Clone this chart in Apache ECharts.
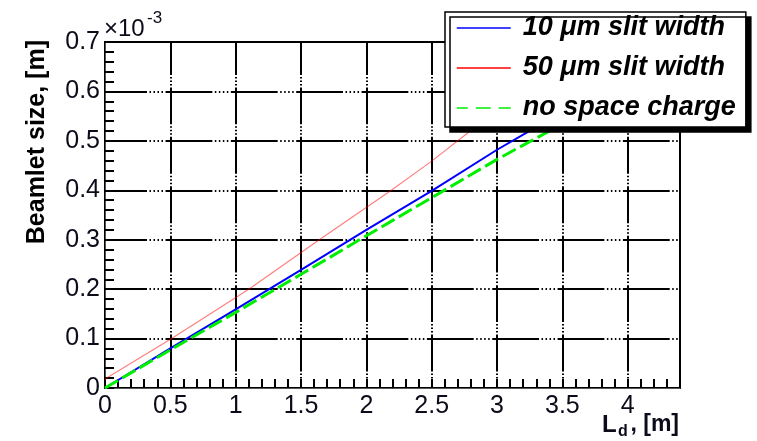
<!DOCTYPE html>
<html>
<head>
<meta charset="utf-8">
<script src="https://cdn.jsdelivr.net/npm/echarts@6/dist/echarts.min.js"></script>
<style>
  html, body { margin: 0; padding: 0; background: #ffffff; }
  #chart { width: 757px; height: 441px; }
</style>
</head>
<body>
<div id="chart"></div>
<script>
// Beamlet size [m] versus drift length L_d [m]

// 10 um slit width
const slit10X = [0, 0.5, 1.0, 1.5, 2.0, 2.5, 3.0, 3.23, 3.35];
const slit10Y = [0, 0.080, 0.159, 0.239, 0.320, 0.399, 0.482, 0.517, 0.538];

// 50 um slit width
const slit50X = [0, 0.51, 1.1, 1.64, 2.18, 2.5, 2.78, 2.9];
const slit50Y = [0.018, 0.100, 0.200, 0.300, 0.398, 0.459, 0.517, 0.540];

// no space charge
const noSpaceX = [0, 0.5, 1.0, 1.5, 2.0, 2.5, 3.0, 3.38, 3.5];
const noSpaceY = [0, 0.077, 0.153, 0.230, 0.308, 0.385, 0.4625, 0.517, 0.535];

const seriesNames = ['10 \u03bcm slit width', '50 \u03bcm slit width', 'no space charge'];

// axis ranges and tick steps (y in units of 1e-3 m)
const xRange = [0, 4.4];
const xMajorStep = 0.5;
const xMinorStep = 0.1;
const yRange = [0, 0.7];
const yMajorStep = 0.1;
const yMinorStep = 0.02;

const pairs = (xs, ys) => xs.map((x, i) => [x, ys[i]]);

const textColor = '#0b0b1a';
const sansFont = '"Liberation Sans", Arial, sans-serif';

const chart = echarts.init(document.getElementById('chart'));

// tick-only helper axis carrying the fine ticks
function fineTickAxis(range, step, pos) {
  return {
    type: 'value', min: range[0], max: range[1], interval: step,
    position: pos,
    axisTick: { show: true, inside: true, length: 9, lineStyle: { color: '#000', width: 2 } },
    axisLabel: { show: false },
    splitLine: { show: false }
  };
}

const option = {
  animation: false,
  backgroundColor: '#ffffff',
  grid: {
    left: 105, right: 77, top: 42, bottom: 53,
    show: true, borderColor: '#000', borderWidth: 2,
    outerBoundsMode: 'none'
  },
  xAxis: [
    {
      type: 'value', min: xRange[0], max: xRange[1], interval: xMajorStep,
      position: 'bottom',
      axisLine: { show: true, onZero: false, lineStyle: { color: '#000', width: 2 } },
      axisTick: { show: false },
      axisLabel: {
        color: textColor, fontSize: 25, fontFamily: sansFont, margin: 6,
        showMaxLabel: false, showMinLabel: true
      },
      splitLine: {
        show: true,
        lineStyle: {
          color: '#000', width: 2,
          type: [36.9, 2, 1.5, 2, 1.5, 2, 1.5, 2.03], dashOffset: 4
        }
      }
    },
    fineTickAxis(xRange, xMinorStep, 'bottom')
  ],
  yAxis: [
    {
      type: 'value', min: yRange[0], max: yRange[1], interval: yMajorStep,
      position: 'left',
      axisLine: { show: true, onZero: false, lineStyle: { color: '#000', width: 2 } },
      axisTick: { show: false },
      axisLabel: { color: textColor, fontSize: 25, fontFamily: sansFont, margin: 5 },
      splitLine: {
        show: true,
        lineStyle: {
          color: '#000', width: 2,
          type: [46.8, 2.5, 1.5, 2.5, 1.5, 2.5, 1.5, 2.5, 1.5, 2.54], dashOffset: 4.8
        }
      }
    },
    fineTickAxis(yRange, yMinorStep, 'left')
  ],
  legend: {
    orient: 'vertical',
    left: 445, top: 12,
    z: 10,
    selectedMode: false,
    padding: [2, 10, 5, 11],
    itemWidth: 54, itemHeight: 28, itemGap: 12,
    backgroundColor: '#ffffff',
    borderColor: '#000', borderWidth: 1.5, borderRadius: 0,
    shadowColor: '#000', shadowBlur: 0, shadowOffsetX: 5, shadowOffsetY: 5,
    itemStyle: { color: 'transparent', borderWidth: 0, opacity: 0 },
    lineStyle: { width: 1.5 },
    textStyle: {
      color: '#000', fontFamily: sansFont, fontWeight: 'bold', fontStyle: 'italic',
      fontSize: 27, lineHeight: 28, padding: [0, 0, 0, 7]
    },
    data: [
      { name: seriesNames[0] },
      { name: seriesNames[1], lineStyle: { opacity: 1, width: 1.5 } },
      { name: seriesNames[2], lineStyle: { type: [15, 8], width: 1.5 } }
    ]
  },
  graphic: [
    {
      type: 'text', x: 37, y: 40, rotation: Math.PI / 2, z: 20,
      style: {
        text: 'Beamlet size, [m]', fill: '#000',
        font: 'bold 25px ' + sansFont,
        align: 'right', textAlign: 'right',
        verticalAlign: 'middle', textVerticalAlign: 'middle'
      }
    },
    {
      type: 'text', x: 104, y: 29, z: 20,
      style: {
        text: '\u00d710', fill: textColor, font: '24px ' + sansFont,
        align: 'left', textAlign: 'left',
        verticalAlign: 'middle', textVerticalAlign: 'middle'
      }
    },
    {
      type: 'text', x: 147, y: 18, z: 20,
      style: {
        text: '-3', fill: textColor, font: '17px ' + sansFont,
        align: 'left', textAlign: 'left',
        verticalAlign: 'middle', textVerticalAlign: 'middle'
      }
    },
    {
      type: 'text', x: 602, y: 425, z: 20,
      style: {
        text: 'L', fill: textColor, font: 'bold 24px ' + sansFont,
        align: 'left', textAlign: 'left',
        verticalAlign: 'middle', textVerticalAlign: 'middle'
      }
    },
    {
      type: 'text', x: 618, y: 432, z: 20,
      style: {
        text: 'd', fill: textColor, font: 'bold 16px ' + sansFont,
        align: 'left', textAlign: 'left',
        verticalAlign: 'middle', textVerticalAlign: 'middle'
      }
    },
    {
      type: 'text', x: 679, y: 425, z: 20,
      style: {
        text: ', [m]', fill: textColor, font: 'bold 23px ' + sansFont,
        align: 'right', textAlign: 'right',
        verticalAlign: 'middle', textVerticalAlign: 'middle'
      }
    }
  ],
  series: [
    {
      type: 'line', name: seriesNames[0], xAxisIndex: 0, yAxisIndex: 0,
      data: pairs(slit10X, slit10Y),
      symbol: 'none', z: 3,
      itemStyle: { color: '#0000ff' },
      lineStyle: { color: '#0000ff', width: 2 }
    },
    {
      type: 'line', name: seriesNames[1], xAxisIndex: 0, yAxisIndex: 0,
      data: pairs(slit50X, slit50Y),
      symbol: 'none', z: 2,
      itemStyle: { color: '#ff0000' },
      lineStyle: { color: '#ff0000', width: 1.2, opacity: 0.5 }
    },
    {
      type: 'line', name: seriesNames[2], xAxisIndex: 0, yAxisIndex: 0,
      data: pairs(noSpaceX, noSpaceY),
      symbol: 'none', z: 4,
      itemStyle: { color: '#00ee00' },
      lineStyle: { color: '#00ee00', width: 3, type: [15, 5] }
    }
  ]
};

chart.setOption(option);
</script>
</body>
</html>
